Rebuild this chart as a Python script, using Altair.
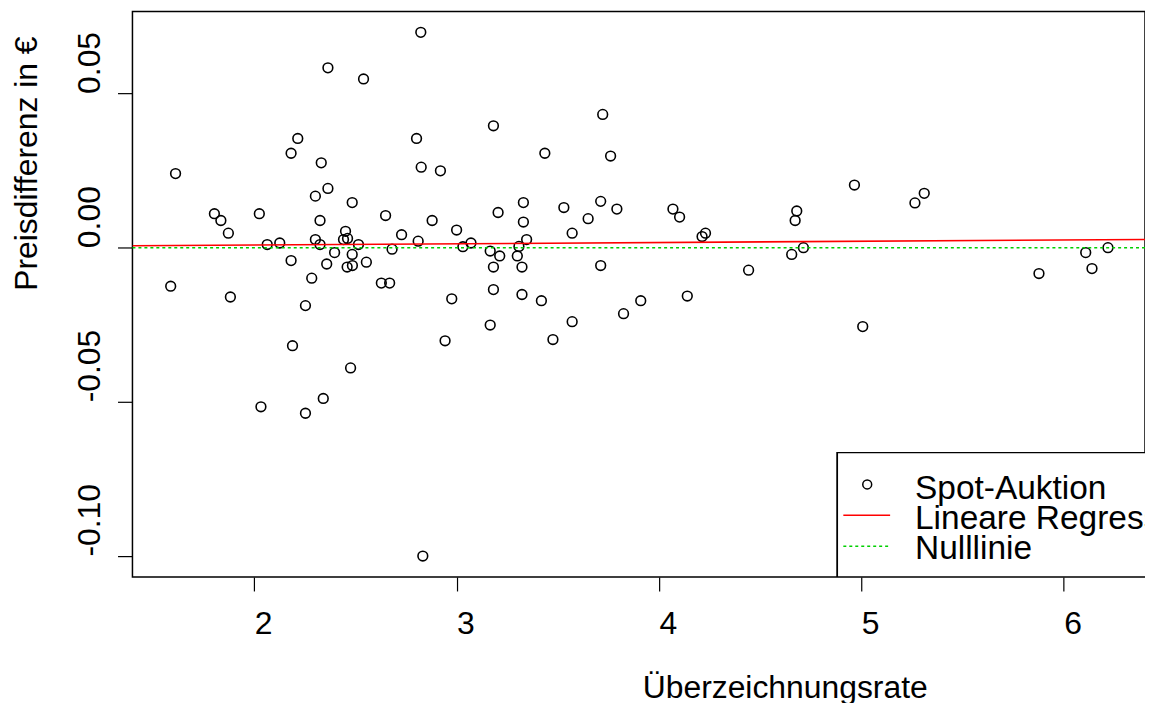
import altair as alt
import pandas as pd

# Überzeichnungsrate (x) and Preisdifferenz in € (y)
rate = [2.823, 2.364, 2.540, 3.182, 2.802, 2.215, 2.182, 2.331, 1.611, 2.825,
        2.920, 2.364, 2.302, 2.484, 3.330, 1.803, 1.835, 2.025, 3.205, 2.649,
        2.325, 2.879, 1.872, 3.000, 3.330, 2.451, 2.728, 2.441, 2.461, 2.302,
        2.810, 3.346, 2.064, 2.126, 2.325, 2.515, 3.071, 3.031, 3.308, 2.397,
        2.681, 3.166, 2.484, 3.213, 3.300, 2.182, 2.358, 2.554, 2.459, 2.485,
        3.182, 3.323, 2.284, 2.628, 2.669, 1.587, 3.182, 3.323, 1.882, 2.976,
        2.253, 3.166, 2.943, 2.189, 2.476, 2.341, 2.033, 2.253, 2.833, 3.722,
        3.436, 3.761, 4.966, 5.265, 3.530, 3.712, 3.792, 4.069, 4.102, 3.650,
        4.681, 4.673, 3.571, 4.230, 4.213, 4.714, 4.656, 3.712, 4.443, 3.419,
        3.910, 4.140, 3.825, 3.571, 3.476, 5.007, 5.311, 5.878, 6.109, 6.140,
        6.219]
diff = [0.0698, 0.0583, 0.0547, 0.0395, 0.0354, 0.0354, 0.0306, 0.0275, 0.0240, 0.0261,
        0.0249, 0.0192, 0.0167, 0.0146, 0.0146, 0.0110, 0.0088, 0.0110, 0.0114, 0.0104,
        0.0088, 0.0088, 0.0047, 0.0057, 0.0083, 0.0053, 0.0042, 0.0026, 0.0030, 0.0026,
        0.0021, 0.0026, 0.0010, 0.0015, 0.0010, 0.0010, 0.0015, 0.0003, 0.0004, -0.0016,
        -0.0005, -0.0011, -0.0022, -0.0027, -0.0027, -0.0042, -0.0053, -0.0047, -0.0063, -0.0058,
        -0.0063, -0.0063, -0.0099, -0.0115, -0.0115, -0.0125, -0.0136, -0.0152, -0.0160, -0.0166,
        -0.0188, -0.0251, -0.0302, -0.0318, -0.0390, -0.0489, -0.0516, -0.0537, -0.1000, 0.0432,
        0.0306, 0.0297, 0.0203, 0.0145, 0.0130, 0.0150, 0.0125, 0.0125, 0.0099, 0.0094,
        0.0119, 0.0088, 0.0047, 0.0047, 0.0036, 0.0000, -0.0022, -0.0058, -0.0073, -0.0172,
        -0.0172, -0.0157, -0.0214, -0.0240, -0.0298, -0.0256, 0.0176, -0.0084, -0.0016, -0.0068,
        0.0000]

x_ticks = [2, 3, 4, 5, 6]
y_ticks = [-0.10, -0.05, 0.00, 0.05]
x_domain = [1.398, 6.402]
y_domain = [-0.1068, 0.07656]
legend_labels = ["Spot-Auktion", "Lineare Regression", "Nulllinie"]
zero_line = [0.0]

FONT = "Liberation Sans"
W, H = 1017, 568

df = pd.DataFrame({"rate": rate, "diff": diff})

xs = alt.Scale(domain=x_domain, nice=False, zero=False)
ys = alt.Scale(domain=y_domain, nice=False, zero=False)

x_axis = alt.Axis(
    values=x_ticks, format="d", grid=False, domain=False,
    tickSize=14, tickColor="black", tickWidth=1.2,
    labelFont=FONT, labelFontSize=32, labelColor="black",
    labelAlign="left", labelBaseline="alphabetic", labelPadding=43,
    labelFlush=False, labelOverlap=False, labelBound=False,
    title="Überzeichnungsrate", titleFont=FONT, titleFontSize=32,
    titleFontWeight="normal", titleColor="black",
    titleAlign="left", titleBaseline="alphabetic", titleX=512, titleY=121,
)
y_axis = alt.Axis(
    values=y_ticks, grid=False, domain=False,
    labelExpr="datum.value < 0 ? '-' + format(-datum.value, '.2f') : format(datum.value, '.2f')",
    tickSize=15, tickColor="black", tickWidth=1.2,
    labelFont=FONT, labelFontSize=32, labelColor="black",
    labelAngle=270, labelAlign="left", labelBaseline="alphabetic", labelPadding=18,
    labelFlush=False, labelOverlap=False, labelBound=False,
    title="Preisdifferenz in €", titleFont=FONT, titleFontSize=32,
    titleFontWeight="normal", titleColor="black",
    titleAngle=270, titleAlign="left", titleBaseline="alphabetic", titleX=-96, titleY=280,
)

base = alt.Chart(df)

points = base.mark_point(
    shape="circle", filled=False, color="black", size=95, strokeWidth=1.6, opacity=1
).encode(
    x=alt.X("rate:Q", scale=xs, axis=x_axis),
    y=alt.Y("diff:Q", scale=ys, axis=y_axis),
)

reg = base.transform_regression("rate", "diff", extent=x_domain).mark_line(
    color="#FF0000", strokeWidth=1.6, clip=True
).encode(
    x=alt.X("rate:Q", scale=xs),
    y=alt.Y("diff:Q", scale=ys),
)

zero = alt.Chart(pd.DataFrame({"z": zero_line})).mark_rule(
    color="#00D000", strokeWidth=1.5, strokeDash=[3, 3]
).encode(y=alt.Y("z:Q", scale=ys), x=alt.value(0), x2=alt.value(W))

# legend (manual, as in the R base graphic)
lg = pd.DataFrame({"label": legend_labels, "row": [0, 1, 2]})
box = alt.Chart(lg).mark_rect(
    fill="white", stroke="black", strokeWidth=1.4, clip=True
).encode(x=alt.value(708), x2=alt.value(W + 40), y=alt.value(443), y2=alt.value(H))

leg_pt = alt.Chart(lg).transform_filter("datum.row == 0").mark_point(
    shape="circle", filled=False, color="black", size=80, strokeWidth=1.5, opacity=1
).encode(x=alt.value(738), y=alt.value(475))

leg_red = alt.Chart(lg).transform_filter("datum.row == 1").mark_rule(
    color="#FF0000", strokeWidth=1.6
).encode(x=alt.value(714), x2=alt.value(761), y=alt.value(506))

leg_green = alt.Chart(lg).transform_filter("datum.row == 2").mark_rule(
    color="#00D000", strokeWidth=1.5, strokeDash=[3, 3]
).encode(x=alt.value(714), x2=alt.value(761), y=alt.value(537))

leg_text = alt.Chart(lg).mark_text(
    align="left", baseline="alphabetic", font=FONT, fontSize=33.6, color="black", clip=True
).encode(
    text="label:N",
    x=alt.value(786),
    y=alt.Y("row:Q", scale=alt.Scale(domain=[0, 2], range=[490, 550]), axis=None),
)

chart = alt.layer(points, reg, zero, box, leg_pt, leg_red, leg_green, leg_text).resolve_scale(
    y="independent"
).properties(
    width=W, height=H,
    background="white",
    autosize=alt.AutoSizeParams(type="none"),
    padding={"left": 125, "top": 2, "right": 0, "bottom": 125},
).configure_view(
    stroke="black", strokeWidth=1.5
)

chart.save("out.html", embed_options={"renderer": "svg", "actions": False})
